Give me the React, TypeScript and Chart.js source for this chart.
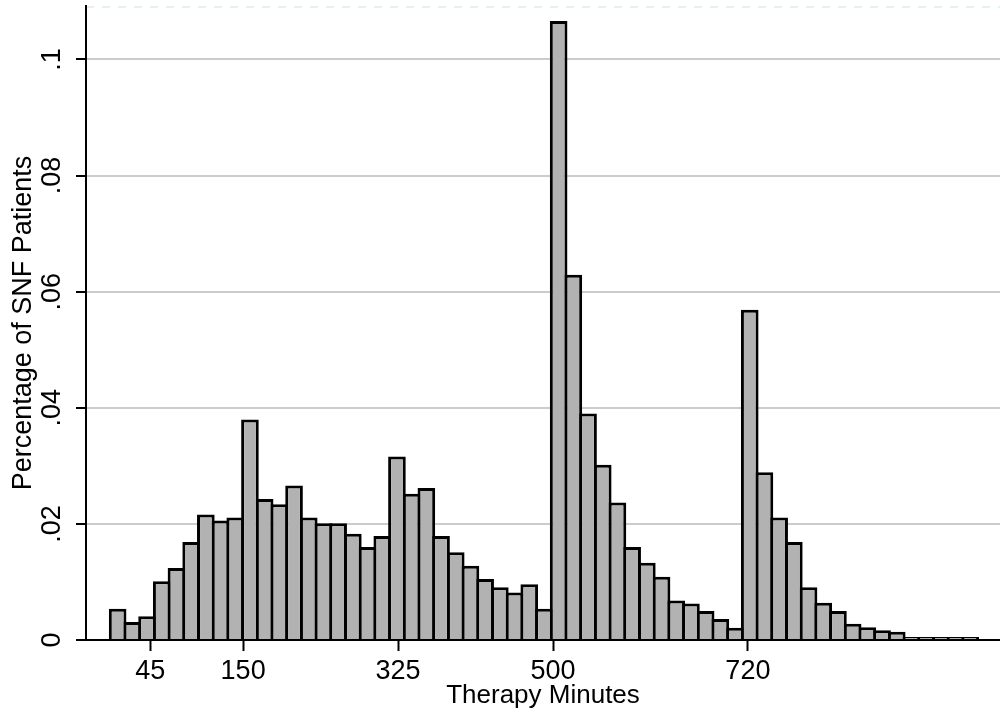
import React, { useEffect, useRef } from "react";
import { Chart, registerables } from "chart.js";

Chart.register(...registerables);

// Share of SNF patients per therapy-minutes bin (histogram heights)
const shareValues = [
  0.0054, 0.0031, 0.0041, 0.0101, 0.0124, 0.0169, 0.0216, 0.0206, 0.0211, 0.038,
  0.0243, 0.0234, 0.0266, 0.0211, 0.0201, 0.0201, 0.0183, 0.016, 0.0179, 0.0316,
  0.0252, 0.0262, 0.0179, 0.0151, 0.0128, 0.0105, 0.0091, 0.0082, 0.0096, 0.0054,
  0.1066, 0.0629, 0.039, 0.0302, 0.0237, 0.016, 0.0133, 0.0109, 0.0068, 0.0063,
  0.005, 0.0036, 0.0021, 0.0569, 0.0289, 0.0211, 0.0169, 0.0091, 0.0064, 0.005,
  0.0028, 0.0022, 0.0017, 0.0014, 0.0005, 0.0005, 0.0005, 0.0005, 0.0005,
];
const binWidthMinutes = 16.6;
const binMidpoints = shareValues.map((_, i) => (i + 0.5) * binWidthMinutes);

const xTickValues = [45, 150, 325, 500, 720];
const yTickValues = [0, 0.02, 0.04, 0.06, 0.08, 0.1];
const yTickLabels = ["0", ".02", ".04", ".06", ".08", ".1"];

const FONT = "'Liberation Sans', Arial, Helvetica, sans-serif";

export default function App() {
  const ref = useRef<HTMLCanvasElement>(null);

  useEffect(() => {
    if (!ref.current) return;
    const plotTopLine = {
      id: "plotTopLine",
      beforeDatasetsDraw(chart: any) {
        const { ctx, chartArea } = chart;
        ctx.save();
        ctx.strokeStyle = "#e6f2ee";
        ctx.lineWidth = 2;
        ctx.setLineDash([8, 8]);
        ctx.beginPath();
        ctx.moveTo(chartArea.left, chartArea.top + 1);
        ctx.lineTo(chartArea.right, chartArea.top + 1);
        ctx.stroke();
        ctx.restore();
      },
    };

    const chart = new Chart(ref.current, {
      type: "bar",
      data: {
        datasets: [
          {
            data: shareValues.map((v, i) => ({ x: binMidpoints[i], y: v })),
            backgroundColor: "#b2b2b2",
            borderColor: "#000000",
            borderWidth: 3,
            barPercentage: 1.2,
            categoryPercentage: 1,
          },
        ],
      },
      options: {
        responsive: false,
        animation: false,
        devicePixelRatio: 1,
        layout: { padding: { top: 6, left: 0, right: 0, bottom: 0 } },
        plugins: {
          legend: { display: false },
          tooltip: { enabled: false },
        },
        scales: {
          x: {
            type: "linear",
            min: -27.44,
            max: 1004.7,
            offset: false,
            afterBuildTicks: (s: any) => {
              s.ticks = xTickValues.map((v) => ({ value: v }));
            },
            afterFit: (s: any) => {
              s.height = 77;
              s.paddingLeft = 0;
              s.paddingRight = 0;
              s.paddingTop = 0;
              s.paddingBottom = 0;
            },
            grid: {
              display: true,
              offset: false,
              drawOnChartArea: false,
              drawTicks: true,
              tickLength: 11,
              tickColor: "#000000",
              tickWidth: 2,
            },
            border: { display: true, color: "#000000", width: 2, z: 1 },
            ticks: {
              font: { family: FONT, size: 27 },
              color: "#000000",
              padding: 4,
              maxRotation: 0,
              minRotation: 0,
              autoSkip: false,
              callback: (v: any) => String(v),
            },
            title: {
              display: true,
              text: "Therapy Minutes",
              font: { family: FONT, size: 26 },
              color: "#000000",
              padding: { top: 0, bottom: 6 },
            },
          },
          y: {
            type: "linear",
            min: 0,
            max: 0.1092,
            afterBuildTicks: (s: any) => {
              s.ticks = yTickValues.map((v) => ({ value: v }));
            },
            afterFit: (s: any) => {
              s.width = 86;
              s.paddingLeft = 0;
              s.paddingRight = 0;
              s.paddingTop = 0;
              s.paddingBottom = 0;
            },
            grid: {
              color: "#cccccc",
              lineWidth: 2,
              offset: false,
              drawTicks: true,
              tickLength: 10,
              tickColor: "#000000",
              tickWidth: 2,
            },
            border: { display: true, color: "#000000", width: 2, z: 1 },
            ticks: {
              font: { family: FONT, size: 27 },
              color: "#000000",
              padding: 5,
              minRotation: 90,
              maxRotation: 90,
              crossAlign: "center",
              autoSkip: false,
              callback: (v: any) => {
                const i = yTickValues.indexOf(Number(v));
                return i >= 0 ? yTickLabels[i] : "";
              },
            },
            title: {
              display: true,
              text: "Percentage of SNF Patients",
              font: { family: FONT, size: 27 },
              color: "#000000",
              padding: { top: 7, bottom: 0 },
            },
          },
        },
      } as any,
      plugins: [plotTopLine],
    });
    return () => chart.destroy();
  }, []);

  return (
    <div style={{ position: "absolute", left: 0, top: 0, width: 1000, height: 717, background: "#ffffff" }}>
      <canvas ref={ref} width={1000} height={717} style={{ display: "block" }} />
    </div>
  );
}
